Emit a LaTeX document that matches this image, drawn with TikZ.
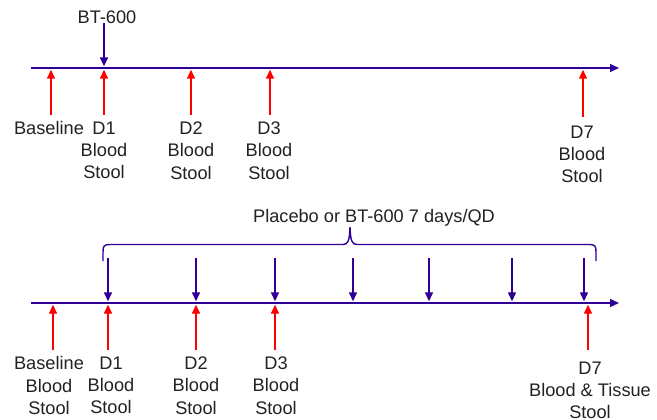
\documentclass[tikz,border=0pt]{standalone}
\usepackage{fontspec}
\setmainfont{Liberation Sans}
\usetikzlibrary{arrows.meta}
\definecolor{tl}{RGB}{48,0,150}
\definecolor{txt}{RGB}{34,34,34}
\begin{document}
\begin{tikzpicture}[x=1pt,y=-1pt,
  timeline/.style={draw=tl, line width=1.4pt, -{Triangle[width=8pt,length=9pt]}},
  dose/.style={draw=tl, line width=1.4pt, -{Triangle[width=8pt,length=9pt]}},
  sample/.style={draw=red, line width=1.4pt, -{Triangle[width=8pt,length=9pt]}},
  lbl/.style={font=\fontsize{18.2}{22.3}\selectfont, text=txt, align=center, inner sep=0pt, anchor=north},
  brace/.style={draw=tl, line width=1.4pt}]
\useasboundingbox (0,0) rectangle (657,420);
\fill[white] (0,0) rectangle (657,420);

% ---------- top timeline ----------
\coordinate (a0) at (31,68);
\coordinate (a1) at (619,68);
\draw[timeline] (a0) -- (a1);

\node[lbl] (bt) at (107,10.5) {BT-600};
\coordinate (bts) at (104,23);
\coordinate (btt) at (104,66.3);
\draw[dose] (bts) -- (btt);

\foreach \n/\x/\b in {ab/51/115, a1d/104/115, a2d/191/115, a3d/270/115, a7d/583/117}{
  \coordinate (\n s) at (\x,\b);
  \coordinate (\n t) at (\x,69.7);
  \draw[sample] (\n s) -- (\n t);
}

\node[lbl] (la0) at (49,121.5) {Baseline};
\node[lbl] (la1) at (104,121.5) {D1\\Blood\\Stool};
\node[lbl] (la2) at (191,121.5) {D2\\Blood\\Stool};
\node[lbl] (la3) at (269,121.5) {D3\\Blood\\Stool};
\node[lbl] (la7) at (582,125.5) {D7\\Blood\\Stool};

% ---------- bottom timeline ----------
\coordinate (b0) at (31,303);
\coordinate (b1) at (619,303);
\draw[timeline] (b0) -- (b1);

\node[lbl] (pl) at (374,209.5) {Placebo or BT-600 7 days/QD};
\coordinate (brL) at (103,261);
\coordinate (brR) at (596,261);
\draw[brace] (brL) -- (103,252) .. controls (103,246) and (104,244.5) .. (110,244.5)
  -- (343,244.5) .. controls (348,244.5) and (349.5,241) .. (350,227)
  .. controls (350.5,241) and (352,244.5) .. (357,244.5)
  -- (589,244.5) .. controls (595,244.5) and (596,246) .. (596,252) -- (brR);

\foreach \n/\x in {d1/108, d2/196, d3/275, d4/353, d5/429, d6/512, d7/584}{
  \coordinate (\n s) at (\x,258);
  \coordinate (\n t) at (\x,301.3);
  \draw[dose] (\n s) -- (\n t);
}

\foreach \n/\x in {bb/53, b1d/108, b2d/196, b3d/275, b7d/588}{
  \coordinate (\n s) at (\x,350);
  \coordinate (\n t) at (\x,304.7);
  \draw[sample] (\n s) -- (\n t);
}

\node[lbl] (lb0) at (49,356.5) {Baseline\\Blood\\Stool};
\node[lbl] (lb1) at (111,356.5) {D1\\Blood\\Stool};
\node[lbl] (lb2) at (196,356.5) {D2\\Blood\\Stool};
\node[lbl] (lb3) at (276,356.5) {D3\\Blood\\Stool};
\node[lbl] (lb7) at (590,361.5) {D7\\Blood \& Tissue\\Stool};
\end{tikzpicture}
\end{document}
